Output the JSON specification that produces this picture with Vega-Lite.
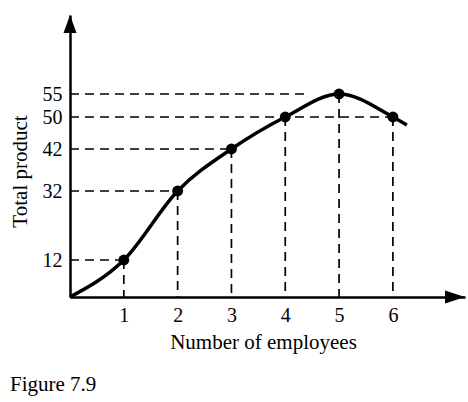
{
  "$schema": "https://vega.github.io/schema/vega-lite/v6.json",
  "width": 395,
  "height": 282,
  "autosize": {"type": "none"},
  "padding": {"left": 70, "top": 15, "right": 3, "bottom": 105},
  "background": "white",
  "config": {"view": {"stroke": null}, "font": "Liberation Serif"},
  "title": {
    "text": "Figure 7.9",
    "orient": "bottom",
    "anchor": "start",
    "dx": 1,
    "offset": 22,
    "font": "Liberation Serif",
    "fontSize": 21,
    "fontWeight": "normal",
    "color": "black"
  },
  "datasets": {
    "curve": [
      {"x": 0, "y": 0},
      {"x": 1, "y": 12},
      {"x": 2, "y": 32},
      {"x": 3, "y": 42},
      {"x": 4, "y": 50},
      {"x": 5, "y": 55},
      {"x": 6, "y": 50},
      {"x": 6.26, "y": 48}
    ],
    "pts": [
      {"x": 1, "y": 12},
      {"x": 2, "y": 32},
      {"x": 3, "y": 42},
      {"x": 4, "y": 50},
      {"x": 5, "y": 55},
      {"x": 6, "y": 50}
    ],
    "hdash": [
      {"x": 0, "x2": 1, "y": 12},
      {"x": 0, "x2": 2, "y": 32},
      {"x": 0, "x2": 3, "y": 42},
      {"x": 0, "x2": 6, "y": 50},
      {"x": 0, "x2": 4.4, "y": 55}
    ],
    "vdash": [
      {"x": 1, "y": 12, "y0": 0},
      {"x": 2, "y": 32, "y0": 0},
      {"x": 3, "y": 42, "y0": 0},
      {"x": 4, "y": 50, "y0": 0},
      {"x": 5, "y": 55, "y0": 0},
      {"x": 6, "y": 50, "y0": 0}
    ],
    "uparrow": [{"x": 0, "y": 75}],
    "rightarrow": [{"x": 7.34, "y": 0}]
  },
  "encoding": {
    "x": {
      "field": "x",
      "type": "quantitative",
      "scale": {"domain": [0, 7.34], "nice": false, "zero": false},
      "axis": {
        "values": [1, 2, 3, 4, 5, 6],
        "grid": false,
        "ticks": false,
        "domainColor": "black",
        "domainWidth": 2.5,
        "labelFont": "Liberation Serif",
        "labelFontSize": 20,
        "labelColor": "black",
        "labelPadding": 8,
        "title": "Number of employees",
        "titleFont": "Liberation Serif",
        "titleFontSize": 21,
        "titleFontWeight": "normal",
        "titleColor": "black",
        "titleX": 193,
        "titleY": 51,
        "titleAlign": "center",
        "titleBaseline": "alphabetic"
      }
    },
    "y": {
      "field": "y",
      "type": "quantitative",
      "scale": {
        "domain": [0, 12, 32, 42, 50, 55, 75],
        "range": [282, 245, 176, 134, 102, 79, 0],
        "nice": false,
        "zero": false
      },
      "axis": {
        "values": [12, 32, 42, 50, 55],
        "grid": false,
        "ticks": false,
        "domainColor": "black",
        "domainWidth": 2.5,
        "labelFont": "Liberation Serif",
        "labelFontSize": 20,
        "labelColor": "black",
        "labelPadding": 8,
        "title": "Total product",
        "titleFont": "Liberation Serif",
        "titleFontSize": 21,
        "titleFontWeight": "normal",
        "titleColor": "black",
        "titleAngle": 270,
        "titleX": -44,
        "titleY": 156,
        "titleAlign": "center",
        "titleBaseline": "alphabetic"
      }
    }
  },
  "layer": [
    {
      "data": {"name": "hdash"},
      "mark": {"type": "rule", "color": "black", "strokeWidth": 1.7, "strokeDash": [9, 6]},
      "encoding": {"x2": {"field": "x2"}}
    },
    {
      "data": {"name": "vdash"},
      "mark": {"type": "rule", "color": "black", "strokeWidth": 1.7, "strokeDash": [9, 6]},
      "encoding": {"y2": {"field": "y0"}}
    },
    {
      "data": {"name": "curve"},
      "mark": {"type": "line", "color": "black", "strokeWidth": 3.5, "interpolate": "monotone"},
      "encoding": {}
    },
    {
      "data": {"name": "pts"},
      "mark": {"type": "point", "filled": true, "color": "black", "opacity": 1, "size": 120},
      "encoding": {}
    },
    {
      "data": {"name": "uparrow"},
      "mark": {"type": "point", "filled": true, "color": "black", "opacity": 1, "size": 100, "shape": "M0,0L-1.3,3.6L1.3,3.6Z"},
      "encoding": {}
    },
    {
      "data": {"name": "rightarrow"},
      "mark": {"type": "point", "filled": true, "color": "black", "opacity": 1, "size": 100, "shape": "M0,0L-4,-1.3L-4,1.3Z"},
      "encoding": {}
    }
  ]
}
